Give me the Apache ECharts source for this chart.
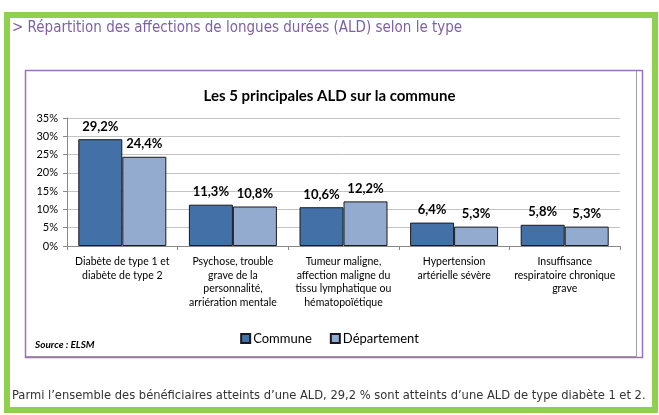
<!DOCTYPE html>
<html>
<head>
<meta charset="utf-8">
<style>
  html, body { margin: 0; padding: 0; background: #fff; }
  #main { width: 659px; height: 415px; }
</style>
</head>
<body>
<div id="main"></div>
<script src="https://cdn.jsdelivr.net/npm/echarts@6/dist/echarts.min.js"></script>
<script>
var categories = [
  'Diabète de type 1 et\ndiabète de type 2',
  'Psychose, trouble\ngrave de la\npersonnalité,\narriération mentale',
  'Tumeur maligne,\naffection maligne du\ntissu lymphatique ou\nhématopoïétique',
  'Hypertension\nartérielle sévère',
  'Insuffisance\nrespiratoire chronique\ngrave'
];
var commune = [29.2, 11.3, 10.6, 6.4, 5.8];
var departement = [24.4, 10.8, 12.2, 5.3, 5.3];
var yTicks = [0, 5, 10, 15, 20, 25, 30, 35];

var chartDom = document.getElementById('main');
var myChart = echarts.init(chartDom);
var option;

var fontMain = 'Lato, "Liberation Sans", sans-serif';
var fontNarrow = '"Liberation Sans Narrow", "DejaVu Sans Condensed", sans-serif';

function pct(p) {
  return p.value.toFixed(1).replace('.', ',') + '%';
}

option = {
  animation: false,
  backgroundColor: '#fff',
  textStyle: { fontFamily: fontMain },
  title: {
    text: 'Les 5 principales ALD sur la commune',
    left: 'center',
    top: 84,
    textStyle: { fontSize: 15, fontWeight: 'bold', color: '#000', fontFamily: fontMain }
  },
  legend: {
    data: ['Commune', 'Département'],
    left: 'center',
    top: 327,
    itemWidth: 9,
    itemHeight: 9,
    itemGap: 18,
    icon: 'rect',
    textStyle: { fontSize: 13, color: '#000', fontFamily: fontMain, padding: [0, 0, 0, -2] }
  },
  grid: { left: 67, right: 39, top: 118, bottom: 169 },
  xAxis: {
    type: 'category',
    data: categories,
    axisLine: { lineStyle: { color: '#888' } },
    axisTick: { show: true, length: 4, lineStyle: { color: '#888' } },
    axisLabel: {
      interval: 0,
      fontSize: 10.5,
      lineHeight: 13.5,
      color: '#000',
      margin: 9,
      fontFamily: fontMain
    }
  },
  yAxis: {
    type: 'value',
    min: 0,
    max: 35,
    interval: 5,
    axisLine: { show: true, lineStyle: { color: '#888' } },
    axisTick: { show: true, length: 4, lineStyle: { color: '#888' } },
    splitLine: { lineStyle: { color: '#c4c4c4' } },
    axisLabel: {
      formatter: function (v) { return yTicks.indexOf(v) >= 0 ? v + '%' : ''; },
      fontSize: 11,
      color: '#000',
      margin: 9,
      fontFamily: fontMain
    }
  },
  series: [
    {
      name: 'Commune',
      type: 'bar',
      data: commune,
      barWidth: 44,
      barGap: '0%',
      itemStyle: { color: '#4270a7', borderColor: '#1a1a1a', borderWidth: 1 },
      label: {
        show: true, position: 'top', distance: 6, formatter: pct,
        fontSize: 13, fontWeight: 'bold', color: '#000', fontFamily: fontMain
      }
    },
    {
      name: 'Département',
      type: 'bar',
      data: departement,
      barWidth: 44,
      itemStyle: { color: '#94abd0', borderColor: '#1a1a1a', borderWidth: 1 },
      label: {
        show: true, position: 'top', distance: 6, formatter: pct,
        fontSize: 13, fontWeight: 'bold', color: '#000', fontFamily: fontMain
      }
    }
  ],
  graphic: [
    // green outer frame
    { type: 'rect', shape: { x: 7, y: 15, width: 648, height: 395 },
      style: { fill: 'none', stroke: '#8fd14f', lineWidth: 6 }, z: -1 },
    { type: 'text', left: 12, top: 21,
      style: { text: '> Répartition des affections de longues durées (ALD) selon le type',
        fill: '#7f5fa6', fontSize: 15, fontFamily: fontNarrow } },
    // chart frame
    { type: 'rect', shape: { x: 25.5, y: 70.5, width: 611, height: 286 },
      style: { fill: 'none', stroke: '#a0a0a0', lineWidth: 1 }, z: -1 },
    { type: 'rect', shape: { x: 25.5, y: 70.5, width: 617, height: 287 },
      style: { fill: 'none', stroke: '#9a72c4', lineWidth: 1.5 }, z: -1 },
    { type: 'text', left: 35, top: 340,
      style: { text: 'Source : ELSM', fill: '#000', fontSize: 10, fontStyle: 'italic',
        fontWeight: 'bold', fontFamily: fontMain } },
    { type: 'text', left: 12, top: 389,
      style: { text: 'Parmi l’ensemble des bénéficiaires atteints d’une ALD, 29,2 % sont atteints d’une ALD de type diabète 1 et 2.',
        fill: '#333', fontSize: 12.8, fontFamily: fontNarrow } }
  ]
};

option && myChart.setOption(option);
</script>
</body>
</html>
